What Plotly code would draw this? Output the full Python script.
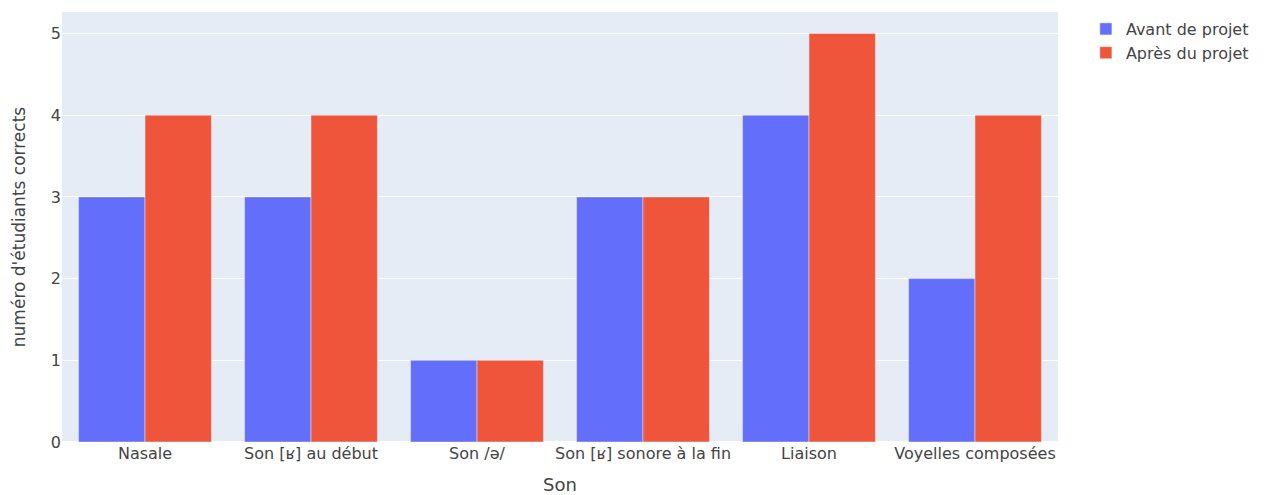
import plotly.graph_objects as go

categories = ["Nasale", "Son [ʁ] au début", "Son /ə/", "Son [ʁ] sonore à la fin", "Liaison", "Voyelles composées"]
avant = [3, 3, 1, 3, 4, 2]
apres = [4, 4, 1, 3, 5, 4]

fig = go.Figure()
fig.add_trace(go.Bar(name="Avant de projet", x=categories, y=avant, marker_color="#636efa"))
fig.add_trace(go.Bar(name="Après du projet", x=categories, y=apres, marker_color="#EF553B"))

fig.update_layout(
    barmode="group",
    width=1264, height=495,
    margin=dict(l=54, r=214, t=4, b=61),
    template="plotly",
    font=dict(family="DejaVu Sans, sans-serif", size=16, color="#444"),
    xaxis=dict(title=dict(text="Son", font=dict(size=18), standoff=16)),
    yaxis=dict(title=dict(text="numéro d'étudiants corrects", font=dict(size=17), standoff=20)),
    legend=dict(font=dict(size=16), x=1.028),
)
fig.write_html("out.html")
